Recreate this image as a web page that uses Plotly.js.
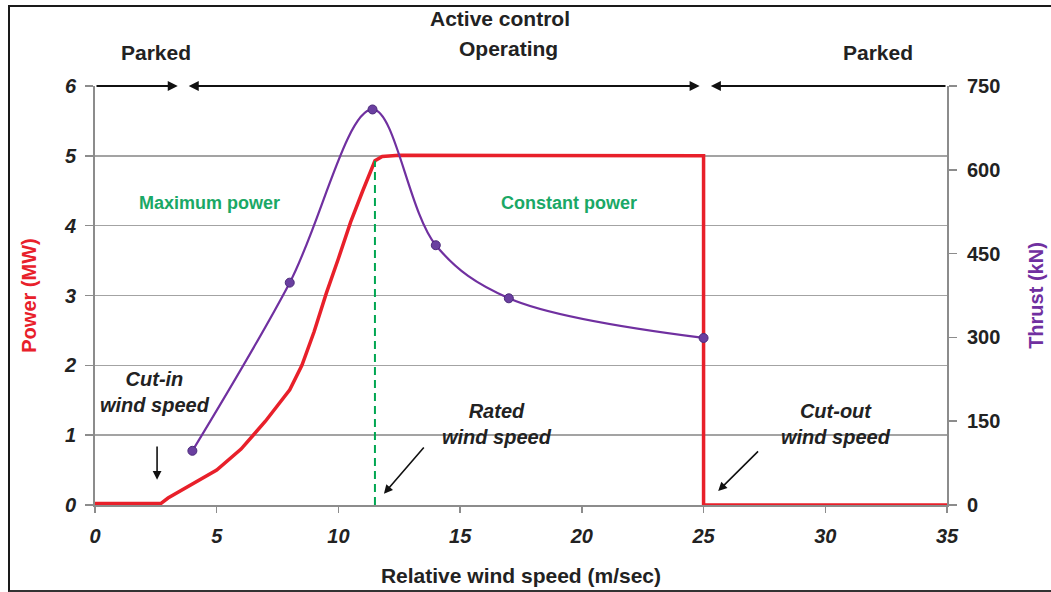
<!DOCTYPE html>
<html>
<head>
<meta charset="utf-8">
<script src="https://cdn.plot.ly/plotly-3.0.1.min.js"></script>
<style>
  body { margin: 0; background: #fff; }
  #wrap { position: relative; width: 1051px; height: 592px; }
  #chart { position: absolute; left: 0; top: 0; width: 1051px; height: 592px; }
  #frame { position: absolute; left: 8px; top: 5px; right: 0; bottom: 0;
           border-top: 2px solid #1a1a1a; border-left: 2px solid #1a1a1a; border-bottom: 2px solid #333;
           pointer-events: none; }
</style>
</head>
<body>
<div id="wrap"><div id="chart"></div><div id="frame"></div></div>
<script>
// ---- data ----
const windPower = [0, 1, 2, 2.7, 3, 3.5, 4, 4.5, 5, 6, 7, 8, 8.5, 9, 9.5, 10, 10.5, 11, 11.5, 11.8, 12.5, 25, 25, 35];
const power     = [0.02, 0.02, 0.02, 0.02, 0.1, 0.2, 0.3, 0.4, 0.5, 0.8, 1.2, 1.65, 2.0, 2.48, 3.03, 3.53, 4.05, 4.5, 4.93, 4.99, 5.01, 5.0, 0, 0];

const windThrust = [4, 8, 11.4, 14, 17, 25];
const thrust     = [97, 398, 708, 465, 370, 299];

const ratedSpeed = [11.5, 11.5];
const ratedLine  = [0, 4.93];

const xTicks = [0, 5, 10, 15, 20, 25, 30, 35];
const yTicks = [0, 1, 2, 3, 4, 5, 6];
const y2Ticks = [0, 150, 300, 450, 600, 750];

// ---- styles ----
const FONT = 'Liberation Sans, Arial, sans-serif';
const RED = '#e8202a';
const PURPLE = '#7030a0';
const GREEN = '#00a651';
const GREY = '#a3a3a3';

const traces = [
  {
    x: windPower, y: power, type: 'scatter', mode: 'lines',
    line: { color: RED, width: 3.5 }, name: 'Power'
  },
  {
    x: ratedSpeed, y: ratedLine, type: 'scatter', mode: 'lines',
    line: { color: GREEN, width: 2, dash: '8px,5px' }, name: 'Rated'
  },
  {
    x: windThrust, y: thrust, type: 'scatter', mode: 'lines+markers', yaxis: 'y2',
    line: { color: PURPLE, width: 2.2, shape: 'spline', smoothing: 1 },
    marker: { color: '#6a3fa0', size: 9, line: { color: '#4b2a7a', width: 1 } },
    name: 'Thrust'
  }
];

const boldItal = { family: FONT, size: 20, color: '#222', weight: 'bold', style: 'italic' };
const boldTxt = { family: FONT, size: 21, color: '#222', weight: 'bold' };

function topArrow(x, ax, side) {
  return { x: x, y: 6, ax: ax, ay: 6, xref: 'x', yref: 'y', axref: 'x', ayref: 'y',
           text: '', showarrow: true, arrowhead: 2, arrowsize: 1, arrowwidth: 2,
           arrowcolor: '#111', arrowside: side, standoff: 0, startstandoff: 0 };
}

const annotations = [
  topArrow(3.4, 0, 'end'),
  topArrow(3.85, 24.9, 'end+start'),
  topArrow(25.3, 35, 'end'),
  { x: 2.5, y: 1.081, xref: 'x', yref: 'paper', yanchor: 'middle', text: 'Parked', showarrow: false, font: boldTxt },
  { x: 32.15, y: 1.081, xref: 'x', yref: 'paper', yanchor: 'middle', text: 'Parked', showarrow: false, font: boldTxt },
  { x: 17.0, y: 1.09, xref: 'x', yref: 'paper', yanchor: 'middle', text: 'Operating', showarrow: false, font: boldTxt },
  { x: 16.64, y: 1.162, xref: 'x', yref: 'paper', yanchor: 'middle', text: 'Active control', showarrow: false, font: boldTxt },
  { x: 4.72, y: 4.33, xref: 'x', yref: 'y', text: 'Maximum power', showarrow: false,
    font: { family: FONT, size: 18, color: '#1aa866', weight: 'bold' } },
  { x: 19.47, y: 4.33, xref: 'x', yref: 'y', text: 'Constant power', showarrow: false,
    font: { family: FONT, size: 18, color: '#1aa866', weight: 'bold' } },
  { x: 2.47, y: 1.62, xref: 'x', yref: 'y', text: 'Cut-in<br>wind speed', showarrow: false, font: boldItal },
  { x: 16.5, y: 1.16, xref: 'x', yref: 'y', text: 'Rated<br>wind speed', showarrow: false, font: boldItal },
  { x: 30.45, y: 1.16, xref: 'x', yref: 'y', text: 'Cut-out<br>wind speed', showarrow: false, font: boldItal },
  { x: 2.55, y: 0.36, ax: 2.55, ay: 0.86, xref: 'x', yref: 'y', axref: 'x', ayref: 'y',
    text: '', showarrow: true, arrowhead: 2, arrowsize: 1.1, arrowwidth: 1.6, arrowcolor: '#111' },
  { x: 11.87, y: 0.16, ax: 13.56, ay: 0.845, xref: 'x', yref: 'y', axref: 'x', ayref: 'y',
    text: '', showarrow: true, arrowhead: 2, arrowsize: 1.1, arrowwidth: 1.6, arrowcolor: '#111' },
  { x: 25.6, y: 0.2, ax: 27.3, ay: 0.79, xref: 'x', yref: 'y', axref: 'x', ayref: 'y',
    text: '', showarrow: true, arrowhead: 2, arrowsize: 1.1, arrowwidth: 1.6, arrowcolor: '#111' }
];

const layout = {
  width: 1051, height: 592,
  margin: { l: 95, r: 104, t: 86, b: 87 },
  paper_bgcolor: '#fff', plot_bgcolor: '#fff',
  showlegend: false,
  xaxis: {
    range: [0, 35], tickvals: xTicks, ticktext: xTicks.map(String),
    showgrid: false, zeroline: false,
    showline: true, linecolor: '#8c8c8c', linewidth: 2,
    ticks: 'outside', ticklen: 6, tickcolor: '#8c8c8c', tickwidth: 1.5,
    ticklabelstandoff: 6,
    tickfont: boldItal,
    title: { text: 'Relative wind speed (m/sec)', standoff: 22,
             font: { family: FONT, size: 21, color: '#222', weight: 'bold' } }
  },
  yaxis: {
    range: [0, 6], tickvals: yTicks, ticktext: yTicks.map(String),
    showgrid: true, gridcolor: GREY, gridwidth: 1.5, zeroline: false,
    showline: true, linecolor: '#8c8c8c', linewidth: 2,
    ticks: 'outside', ticklen: 8, tickcolor: '#8c8c8c', tickwidth: 1.5,
    ticklabelstandoff: 5,
    tickfont: boldItal,
    title: { text: 'Power (MW)', standoff: 22,
             font: { family: FONT, size: 20, color: RED, weight: 'bold' } }
  },
  yaxis2: {
    range: [0, 750], tickvals: y2Ticks, ticktext: y2Ticks.map(String),
    overlaying: 'y', side: 'right',
    showgrid: false, zeroline: false,
    showline: true, linecolor: '#8c8c8c', linewidth: 2,
    ticks: 'outside', ticklen: 8, tickcolor: '#8c8c8c', tickwidth: 1.5,
    ticklabelstandoff: 6,
    tickfont: { family: FONT, size: 20, color: '#222', weight: 'bold' },
    title: { text: 'Thrust (kN)', standoff: 30,
             font: { family: FONT, size: 20, color: PURPLE, weight: 'bold' } }
  },
  annotations: annotations
};

Plotly.newPlot('chart', traces, layout, { displayModeBar: false, staticPlot: true });
</script>
</body>
</html>
